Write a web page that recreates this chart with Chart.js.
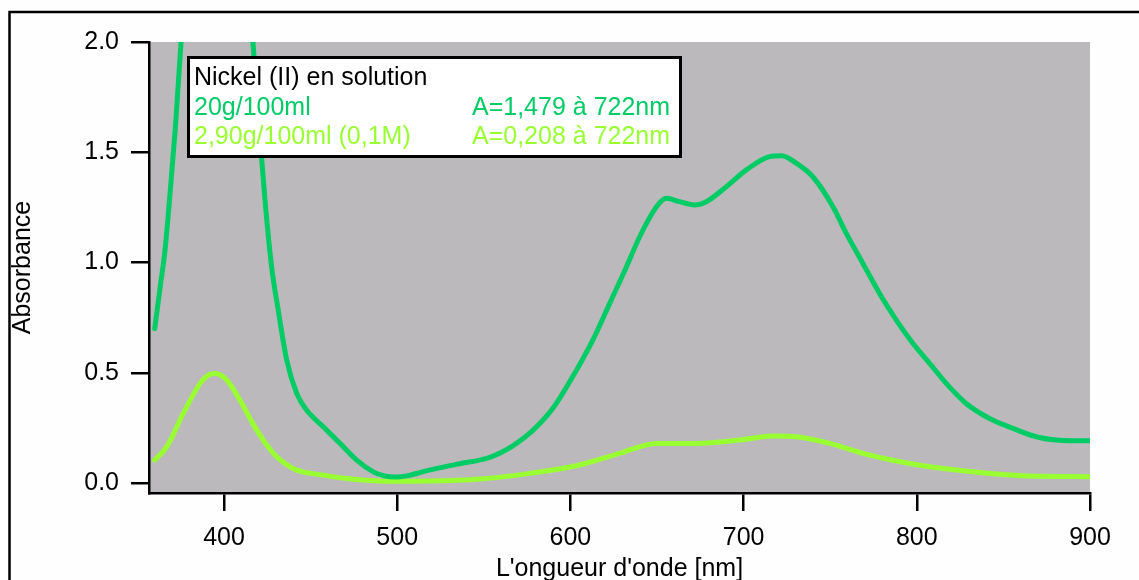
<!DOCTYPE html>
<html>
<head>
<meta charset="utf-8">
<script src="https://cdn.jsdelivr.net/npm/chart.js@4"></script>
<style>
  html, body { margin: 0; padding: 0; background: #fefefe; overflow: hidden; }
  #wrap { width: 1139px; height: 600px; }
</style>
</head>
<body>
<div id="wrap"><canvas id="spectre" width="1139" height="600"></canvas></div>
<script>
// Longueurs d'onde (nm) et absorbances
// Solution concentrée 20g/100ml (sort de l'échelle vers 380-410 nm)
const lambdaConc = [360, 363, 366, 368.5, 372, 375.2, 380, 395, 410, 416.7, 420, 423.7, 427.5, 431.3, 436.2, 442, 447.7,
  457.3, 467, 476.6, 486.2, 492, 499, 507, 515, 534, 553.5, 567, 578.5, 590, 603.5, 613, 622.7, 632.4, 640, 649.7,
  655.4, 663, 671.8, 678.5, 690, 701.6, 715, 722, 730.5, 740, 751.6, 759.3, 768.9, 778.5, 788.2, 797.7, 807.4,
  817, 828.5, 842, 855.5, 869, 880.4, 890, 900];
const absConc = [0.70, 0.88, 1.06, 1.28, 1.62, 2.00, 2.60, 3.40, 2.60, 2.00, 1.64, 1.28, 0.98, 0.785, 0.558, 0.407, 0.331,
  0.255, 0.18, 0.104, 0.051, 0.034, 0.027, 0.035, 0.052, 0.085, 0.117, 0.17, 0.24, 0.34, 0.512, 0.649, 0.815, 0.981, 1.117, 1.253,
  1.291, 1.276, 1.261, 1.276, 1.344, 1.42, 1.48, 1.484, 1.45, 1.389, 1.253, 1.132, 0.996, 0.86, 0.739, 0.634, 0.543,
  0.452, 0.361, 0.293, 0.248, 0.21, 0.195, 0.192, 0.192];

// Solution diluée 2,90g/100ml (0,1M)
const lambdaDil = [360, 367, 376.5, 386.2, 391, 394.8, 401.6, 409.2, 418.9, 428.5, 435, 442, 457.3, 476.6, 495.8, 518.9,
  547.7, 576.6, 605.4, 628.5, 649.7, 672.8, 697.7, 717, 730.5, 749.7, 768.9, 788.2, 807.4, 826.6, 845.9, 865, 900];
const absDil = [0.104, 0.165, 0.316, 0.452, 0.49, 0.497, 0.467, 0.376, 0.24, 0.135, 0.09, 0.059, 0.036, 0.016, 0.008, 0.009,
  0.018, 0.044, 0.082, 0.135, 0.18, 0.18, 0.195, 0.213, 0.21, 0.18, 0.135, 0.1, 0.074, 0.056, 0.041, 0.032, 0.029];

const ticksX = [400, 500, 600, 700, 800, 900];
const ticksY = [0, 0.5, 1.0, 1.5, 2.0];

const titreLegende = 'Nickel (II) en solution';
const nomsSeries = ['20g/100ml', '2,90g/100ml (0,1M)'];
const notesSeries = ['A=1,479 à 722nm', 'A=0,208 à 722nm'];
const couleurs = ['#00cc66', '#99ff33'];

const police = '"Liberation Sans", Arial, sans-serif';
Chart.defaults.font.family = police;
Chart.defaults.color = '#000';

function points(xs, ys) {
  return xs.map((x, i) => ({ x: x, y: ys[i] }));
}

// fond gris de la zone de tracé + cadre extérieur
const fondGris = {
  id: 'fondGris',
  beforeDraw(chart) {
    const { ctx, chartArea: a } = chart;
    ctx.save();
    ctx.fillStyle = '#fefefe';
    ctx.fillRect(0, 0, chart.width, chart.height);
    ctx.fillStyle = '#bbb9bc';
    ctx.fillRect(a.left, a.top, a.right - a.left, a.bottom - a.top);
    ctx.strokeStyle = '#000';
    ctx.lineWidth = 2.5;
    ctx.strokeRect(9.5, 12, 1400, 1400);
    ctx.restore();
  }
};

// encadré de légende en haut à gauche
const legende = {
  id: 'legende',
  afterDatasetsDraw(chart) {
    const ctx = chart.ctx;
    const x = chart.chartArea.left + 38, y = 56, w = 495, h = 102;
    ctx.save();
    ctx.fillStyle = '#fff';
    ctx.fillRect(x, y, w, h);
    ctx.strokeStyle = '#000';
    ctx.lineWidth = 3;
    ctx.strokeRect(x + 1.5, y + 1.5, w - 3, h - 3);
    ctx.font = '25px ' + police;
    ctx.textBaseline = 'alphabetic';
    ctx.fillStyle = '#000';
    ctx.fillText(titreLegende, x + 7, y + 29);
    nomsSeries.forEach((nom, i) => {
      ctx.fillStyle = couleurs[i];
      ctx.fillText(nom, x + 7, y + 59 + i * 29);
      ctx.fillText(notesSeries[i], x + 285, y + 59 + i * 29);
    });
    ctx.restore();
  }
};

const ctx = document.getElementById('spectre').getContext('2d');

new Chart(ctx, {
  type: 'line',
  data: {
    datasets: [
      {
        label: nomsSeries[0],
        data: points(lambdaConc, absConc),
        borderColor: couleurs[0],
        borderWidth: 5,
        pointRadius: 0,
        cubicInterpolationMode: 'monotone',
        borderCapStyle: 'round'
      },
      {
        label: nomsSeries[1],
        data: points(lambdaDil, absDil),
        borderColor: couleurs[1],
        borderWidth: 5,
        pointRadius: 0,
        cubicInterpolationMode: 'monotone',
        borderCapStyle: 'round'
      }
    ]
  },
  options: {
    responsive: false,
    animation: false,
    devicePixelRatio: 1,
    layout: { padding: { top: 42, right: 49, left: 0, bottom: 0 } },
    plugins: {
      legend: { display: false },
      tooltip: { enabled: false }
    },
    scales: {
      x: {
        type: 'linear',
        min: 356.7,
        max: 900,
        afterBuildTicks: s => { s.ticks = ticksX.map(v => ({ value: v })); },
        afterFit: s => { s.height = 107; },
        grid: { drawOnChartArea: false, drawTicks: true, tickLength: 18, lineWidth: 2.5, tickWidth: 2.5, tickColor: '#000' },
        border: { display: true, color: '#000', width: 2.5 },
        ticks: { color: '#000', font: { size: 25 }, padding: 12, maxRotation: 0, callback: v => String(v) },
        title: { display: true, text: "L'ongueur d'onde [nm]", color: '#000', font: { size: 25 }, padding: { top: 0, bottom: 16 } }
      },
      y: {
        min: -0.045,
        max: 2.0,
        afterBuildTicks: s => { s.ticks = ticksY.map(v => ({ value: v })); },
        afterFit: s => { s.width = 149; },
        grid: { drawOnChartArea: false, drawTicks: true, tickLength: 18, lineWidth: 2.5, tickWidth: 2.5, tickColor: '#000' },
        border: { display: true, color: '#000', width: 2.5 },
        ticks: { color: '#000', font: { size: 25 }, padding: 12, callback: v => v.toFixed(1) },
        title: { display: true, text: 'Absorbance', color: '#000', font: { size: 25 }, padding: { top: 8, bottom: 0 } }
      }
    }
  },
  plugins: [fondGris, legende]
});
</script>
</body>
</html>
